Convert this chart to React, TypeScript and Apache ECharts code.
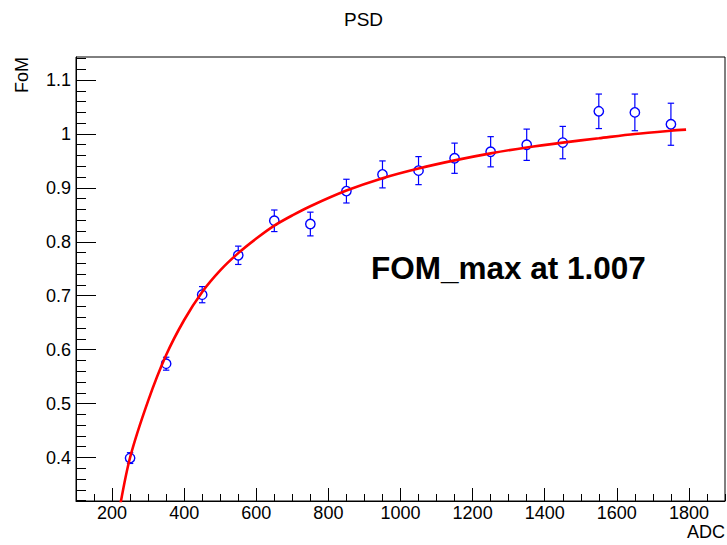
import React, { useEffect, useRef } from "react";
import * as echarts from "echarts";

// Measured points (ADC bin centre, FoM, error)
const ADC_VALUES = [250, 350, 450, 550, 650, 750, 850, 950, 1050, 1150, 1250, 1350, 1450, 1550, 1650, 1750];
const FOM_VALUES = [0.399, 0.574, 0.702, 0.775, 0.839, 0.833, 0.894, 0.925, 0.932, 0.955, 0.967, 0.980, 0.984, 1.042, 1.040, 1.018];
const FOM_ERRORS = [0.010, 0.012, 0.015, 0.017, 0.020, 0.022, 0.022, 0.025, 0.026, 0.028, 0.028, 0.029, 0.030, 0.032, 0.034, 0.039];

// Fit curve
const FIT_ADC = [220, 250, 300, 350, 400, 450, 500, 550, 600, 650, 700, 750, 850, 950, 1050, 1150, 1250, 1350, 1450, 1550, 1650, 1750, 1792];
const FIT_FOM = [0.302, 0.400, 0.505, 0.590, 0.655, 0.707, 0.747, 0.779, 0.806, 0.830, 0.849, 0.866, 0.895, 0.918, 0.936, 0.951, 0.964, 0.975, 0.984, 0.992, 1.000, 1.006, 1.008];

// Axis ticks
const X_MAJOR = [200, 400, 600, 800, 1000, 1200, 1400, 1600, 1800];
const X_MINOR = [100, 150, 200, 250, 300, 350, 400, 450, 500, 550, 600, 650, 700, 750, 800, 850, 900, 950, 1000, 1050, 1100, 1150, 1200, 1250, 1300, 1350, 1400, 1450, 1500, 1550, 1600, 1650, 1700, 1750, 1800, 1850, 1900];
const Y_MAJOR = [0.4, 0.5, 0.6, 0.7, 0.8, 0.9, 1, 1.1];
const Y_MINOR = [0.32, 0.34, 0.36, 0.38, 0.4, 0.42, 0.44, 0.46, 0.48, 0.5, 0.52, 0.54, 0.56, 0.58, 0.6, 0.62, 0.64, 0.66, 0.68, 0.7, 0.72, 0.74, 0.76, 0.78, 0.8, 0.82, 0.84, 0.86, 0.88, 0.9, 0.92, 0.94, 0.96, 0.98, 1, 1.02, 1.04, 1.06, 1.08, 1.1, 1.12, 1.14];

const X_MIN = 100;
const X_MAX = 1900;
const Y_MIN = 0.3194;
const Y_MAX = 1.1427;

const FONT = "'Liberation Sans', Arial, Helvetica, sans-serif";
const BLUE = "#0000ff";
const RED = "#ff0000";

export default function App() {
  const ref = useRef<HTMLDivElement>(null);

  useEffect(() => {
    document.body.style.margin = "0";
    const chart = echarts.init(ref.current!, null, { renderer: "svg" });

    const pointData = ADC_VALUES.map((x, i) => [x, FOM_VALUES[i], FOM_ERRORS[i]]);
    const fitData = FIT_ADC.map((x, i) => [x, FIT_FOM[i]]);

    const baseX = {
      type: "value",
      min: X_MIN,
      max: X_MAX,
      position: "bottom",
      splitLine: { show: false },
    };
    const baseY = {
      type: "value",
      min: Y_MIN,
      max: Y_MAX,
      position: "left",
      splitLine: { show: false },
    };

    chart.setOption({
      animation: false,
      backgroundColor: "#ffffff",
      title: {
        text: "PSD",
        left: "center",
        top: 10,
        padding: 0,
        textStyle: { fontFamily: FONT, fontSize: 19, fontWeight: "normal", color: "#000" },
      },
      grid: {
        left: 76,
        top: 57,
        right: 2,
        bottom: 44,
        show: true,
        borderColor: "#000",
        borderWidth: 1,
        backgroundColor: "transparent",
      },
      xAxis: [
        {
          ...baseX,
          axisLine: { show: true, lineStyle: { color: "#000", width: 1 } },
          axisTick: { show: true, inside: true, length: 13, customValues: X_MAJOR, lineStyle: { color: "#000" } },
          axisLabel: {
            show: true,
            customValues: X_MAJOR,
            margin: 3,
            fontFamily: FONT,
            fontSize: 18,
            color: "#000",
            formatter: (v: number) => String(v),
          },
        },
        {
          ...baseX,
          axisLine: { show: false },
          axisTick: { show: true, inside: true, length: 7, customValues: X_MINOR, lineStyle: { color: "#000" } },
          axisLabel: { show: false },
        },
      ],
      yAxis: [
        {
          ...baseY,
          axisLine: { show: true, lineStyle: { color: "#000", width: 1 } },
          axisTick: { show: true, inside: true, length: 20, customValues: Y_MAJOR, lineStyle: { color: "#000" } },
          axisLabel: {
            show: true,
            customValues: Y_MAJOR,
            margin: 5,
            fontFamily: FONT,
            fontSize: 18,
            color: "#000",
            formatter: (v: number) => String(v),
          },
        },
        {
          ...baseY,
          axisLine: { show: false },
          axisTick: { show: true, inside: true, length: 10, customValues: Y_MINOR, lineStyle: { color: "#000" } },
          axisLabel: { show: false },
        },
      ],
      graphic: [
        {
          type: "text",
          x: 22,
          y: 57,
          rotation: Math.PI / 2,
          style: {
            text: "FoM",
            fontFamily: FONT,
            fontSize: 18,
            fill: "#000",
            align: "right",
            verticalAlign: "middle",
          },
        },
        {
          type: "text",
          x: 725,
          y: 532,
          style: {
            text: "ADC",
            fontFamily: FONT,
            fontSize: 18,
            fill: "#000",
            align: "right",
            verticalAlign: "middle",
          },
        },
        {
          type: "text",
          x: 371,
          y: 268,
          z: 100,
          style: {
            text: "FOM_max at 1.007",
            fontFamily: FONT,
            fontSize: 31.5,
            fontWeight: "bold",
            fill: "#000",
            align: "left",
            verticalAlign: "middle",
          },
        },
      ],
      series: [
        {
          type: "custom",
          xAxisIndex: 0,
          yAxisIndex: 0,
          data: pointData,
          encode: { x: 0, y: 1 },
          z: 2,
          renderItem: (params: any, api: any) => {
            const x = api.value(0);
            const y = api.value(1);
            const e = api.value(2);
            const c = api.coord([x, y]);
            const cx = c[0];
            const cy = c[1];
            const top = api.coord([x, y + e])[1];
            const bot = api.coord([x, y - e])[1];
            const r = 4.7;
            const cap = 3.2;
            const style = { stroke: BLUE, lineWidth: 1.2, fill: null };
            const children: any[] = [];
            if (cy - top > r) {
              children.push({ type: "line", shape: { x1: cx, y1: top, x2: cx, y2: cy - r }, style });
            }
            if (bot - cy > r) {
              children.push({ type: "line", shape: { x1: cx, y1: cy + r, x2: cx, y2: bot }, style });
            }
            children.push({ type: "line", shape: { x1: cx - cap, y1: top, x2: cx + cap, y2: top }, style });
            children.push({ type: "line", shape: { x1: cx - cap, y1: bot, x2: cx + cap, y2: bot }, style });
            children.push({ type: "circle", shape: { cx, cy, r }, style: { stroke: BLUE, lineWidth: 1.4, fill: null } });
            return { type: "group", children };
          },
        },
        {
          type: "line",
          xAxisIndex: 0,
          yAxisIndex: 0,
          data: fitData,
          smooth: 0.3,
          showSymbol: false,
          symbol: "none",
          clip: true,
          z: 3,
          lineStyle: { color: RED, width: 2.6 },
        },
      ],
    });

    return () => {
      chart.dispose();
    };
  }, []);

  return (
    <div
      ref={ref}
      style={{ position: "fixed", left: 0, top: 0, width: 727, height: 545, background: "#fff" }}
    />
  );
}
